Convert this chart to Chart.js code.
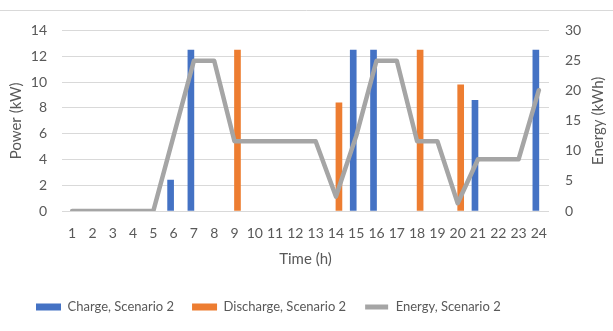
<!DOCTYPE html>
<html>
<head>
<meta charset="utf-8">
<script src="https://cdn.jsdelivr.net/npm/chart.js@4.4.1/dist/chart.umd.min.js"></script>
<style>
  html, body { margin: 0; padding: 0; background: #ffffff; }
  #wrap { width: 613px; height: 331px; }
</style>
</head>
<body>
<div id="wrap"><canvas id="c" width="613" height="331"></canvas></div>
<script>
// ---- data ----
const hours = ['1','2','3','4','5','6','7','8','9','10','11','12','13','14','15','16','17','18','19','20','21','22','23','24'];
const chargeScenario2 = [0,0,0,0,0,2.4,12.5,0,0,0,0,0,0,0,12.5,12.5,0,0,0,0,8.6,0,0,12.5];
const dischargeScenario2 = [0,0,0,0,0,0,0,0,12.5,0,0,0,0,8.4,0,0,0,12.5,0,9.8,0,0,0,0];
const energyScenario2 = [0,0,0,0,0,12.5,25,25,11.6,11.6,11.6,11.6,11.6,2.4,12.5,25,25,11.6,11.6,1.3,8.6,8.6,8.6,20.1];
const seriesNames = ['Charge, Scenario 2', 'Discharge, Scenario 2', 'Energy, Scenario 2'];
const powerTicks = { min: 0, max: 14, step: 2 };
const energyTicks = { min: 0, max: 30, step: 5 };
const xTitle = 'Time (h)';
const yTitle = 'Power (kW)';
const y2Title = 'Energy (kWh)';

const FONT = 'Lato';
const TXT = '#595959';
const GRID = '#D9D9D9';

// zero-height bars are simply not drawn
const noZero = arr => arr.map(v => (v === 0 ? null : v));

const topRule = {
  id: 'topRule',
  beforeDraw(chart) {
    const ctx = chart.ctx;
    ctx.save();
    ctx.strokeStyle = GRID;
    ctx.lineWidth = 1;
    ctx.beginPath();
    ctx.moveTo(0, 10.5);
    ctx.lineTo(chart.width, 10.5);
    ctx.stroke();
    ctx.restore();
    if (chart.legend) { chart.legend.left = 18; }
  }
};

const rightTitle = {
  id: 'rightTitle',
  afterDraw(chart) {
    const s = chart.scales.y2;
    const ctx = chart.ctx;
    ctx.save();
    ctx.translate(s.right - 14.5, (s.top + s.bottom) / 2);
    ctx.rotate(-Math.PI / 2);
    ctx.font = '15px ' + FONT;
    ctx.fillStyle = TXT;
    ctx.textAlign = 'center';
    ctx.textBaseline = 'middle';
    ctx.fillText(s.options.title.text, 0, 0);
    ctx.restore();
  }
};

new Chart(document.getElementById('c'), {
  data: {
    labels: hours,
    datasets: [
      {
        type: 'bar', label: seriesNames[0], data: noZero(chargeScenario2),
        backgroundColor: '#4472C4', yAxisID: 'y', order: 2,
        barThickness: 6
      },
      {
        type: 'bar', label: seriesNames[1], data: noZero(dischargeScenario2),
        backgroundColor: '#ED7D31', yAxisID: 'y', order: 3,
        barThickness: 6
      },
      {
        type: 'line', label: seriesNames[2], data: energyScenario2,
        borderColor: '#A5A5A5', backgroundColor: '#A5A5A5', borderWidth: 4.5,
        pointRadius: 0, tension: 0, borderJoinStyle: 'round', borderCapStyle: 'round',
        yAxisID: 'y2', order: 1
      }
    ]
  },
  options: {
    responsive: false,
    animation: false,
    devicePixelRatio: 1,
    layout: { padding: { top: 30.7, left: 0, right: 0, bottom: 7.5 } },
    plugins: {
      tooltip: { enabled: false },
      legend: {
        position: 'bottom',
        align: 'start',
        labels: {
          boxWidth: 25, boxHeight: 7, padding: 18,
          color: TXT, font: { family: FONT, size: 13 },
          sort: (a, b) => a.datasetIndex - b.datasetIndex,
          generateLabels(chart) {
            const items = Chart.defaults.plugins.legend.labels.generateLabels(chart);
            items.forEach(it => {
              const ds = chart.data.datasets[it.datasetIndex];
              if (ds.type === 'line') {
                it.fillStyle = ds.borderColor; it.strokeStyle = '#ffffff'; it.lineWidth = 2;
              } else {
                it.lineWidth = 0;
              }
            });
            return items;
          }
        }
      }
    },
    scales: {
      x: {
        offset: true,
        grid: { display: false, drawTicks: false },
        border: { display: false },
        ticks: { color: TXT, font: { family: FONT, size: 14 }, padding: 14, maxRotation: 0, autoSkip: false },
        title: { display: true, text: xTitle, color: TXT, font: { family: FONT, size: 15 }, padding: { top: 0, bottom: 14.5 } },
        afterFit(s) { s.height = 71.5; }
      },
      y: {
        position: 'left',
        min: powerTicks.min, max: powerTicks.max,
        grid: { color: GRID, drawTicks: false, lineWidth: 1 },
        border: { display: false },
        ticks: { stepSize: powerTicks.step, color: TXT, font: { family: FONT, size: 14 }, padding: 15 },
        title: { display: true, text: yTitle, color: TXT, font: { family: FONT, size: 15 }, padding: { top: 7.5, bottom: 0 } },
        afterFit(s) { s.width = 62; }
      },
      y2: {
        position: 'right',
        min: energyTicks.min, max: energyTicks.max,
        grid: { display: false, drawOnChartArea: false, drawTicks: false },
        border: { display: false },
        ticks: { stepSize: energyTicks.step, color: TXT, font: { family: FONT, size: 14 }, padding: 16 },
        title: { display: false, text: y2Title },
        afterFit(s) { s.width = 64; }
      }
    }
  },
  plugins: [topRule, rightTitle]
});
</script>
</body>
</html>
